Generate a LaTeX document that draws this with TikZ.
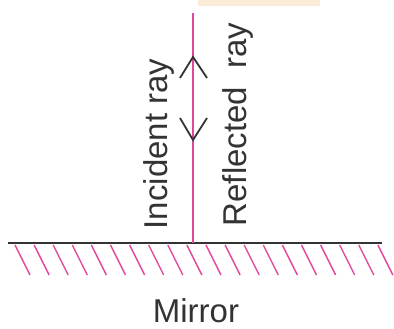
\documentclass[tikz,border=0pt]{standalone}
\usepackage{fontspec}
\setmainfont{Liberation Sans}
\usepackage{tikz}
\usetikzlibrary{calc}
\definecolor{raypink}{HTML}{E2479C}
\definecolor{inkgray}{HTML}{333333}
\definecolor{tabpeach}{HTML}{FDEBD9}

\begin{document}
\begin{tikzpicture}[x=1pt, y=1pt, every node/.style={font=\fontsize{33}{40}\selectfont, text=inkgray}]
  \useasboundingbox (0,0) rectangle (394,329);
  % Top tab
  \fill[tabpeach] (198,323) rectangle (320,329);

  % Points
  \coordinate (mleft) at (8,86);
  \coordinate (mright) at (382,86);
  \coordinate (top) at (193,316);
  \coordinate (foot) at (193,86);
  \coordinate (up) at (193,272);
  \coordinate (down) at (193,189);

  % Hatching
  \foreach \i in {0,...,19}
    \draw[raypink, line width=1.4pt] ({15+19.1*\i},84) -- ++(15,-30);

  % Mirror and ray
  \draw[inkgray, line width=2pt] (mleft) -- (mright);
  \draw[raypink, line width=1.4pt] (top) -- (foot);

  % Chevrons
  \draw[inkgray, line width=1.8pt] ($(up)+(-13,-21)$) -- (up) -- ++(14,-21);
  \draw[inkgray, line width=1.8pt] ($(down)+(-13,22)$) -- (down) -- ++(14,22);

  % Labels
  \node[rotate=90, anchor=base] (inc) at (167,185) {Incident ray};
  \node[rotate=90, anchor=base] (refl) at (246,204.5) {Reflected\ \ ray};
  \node[anchor=base] (mirror) at (196,6) {Mirror};
\end{tikzpicture}
\end{document}
